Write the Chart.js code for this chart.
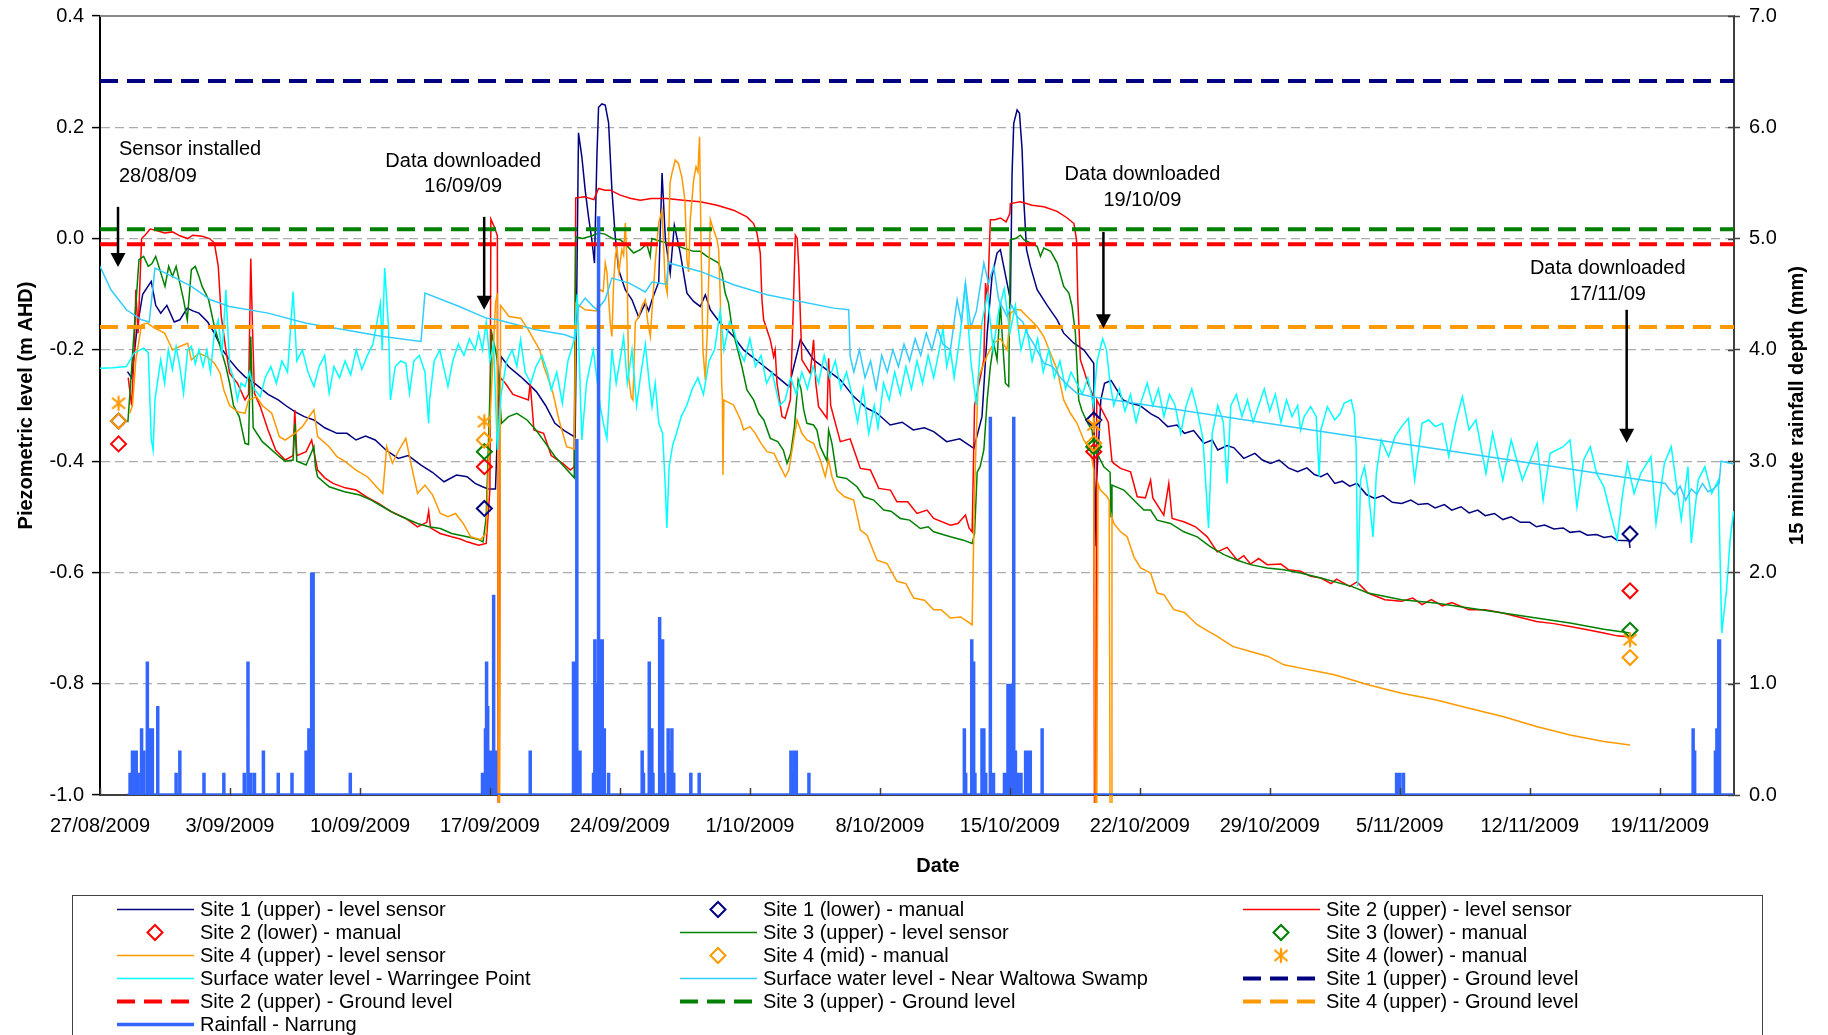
<!DOCTYPE html>
<html>
<head>
<meta charset="utf-8">
<script src="https://cdn.jsdelivr.net/npm/chart.js@4.4.1/dist/chart.umd.min.js"></script>
<style>
  html, body { margin: 0; padding: 0; background: #fff; }
  canvas { display: block; }
</style>
</head>
<body>
<canvas id="chart" width="1828" height="1035" style="width:1828px;height:1035px"></canvas>
<script>
// x values are days since 27/08/2009, left axis in m AHD, rainfall in mm
const tickLabels = ['27/08/2009', '3/09/2009', '10/09/2009', '17/09/2009', '24/09/2009', '1/10/2009',
  '8/10/2009', '15/10/2009', '22/10/2009', '29/10/2009', '5/11/2009', '12/11/2009', '19/11/2009'];
const tickDays = tickLabels.map((_, i) => i * 7);
const leftTicks = [-1.0, -0.8, -0.6, -0.4, -0.2, 0.0, 0.2, 0.4];
const rightTicks = [0, 1, 2, 3, 4, 5, 6, 7];

const seriesNames = [
  'Site 1 (upper) - level sensor', 'Site 1 (lower) - manual', 'Site 2 (upper) - level sensor',
  'Site 2 (lower) - manual', 'Site 3 (upper) - level sensor', 'Site 3 (lower) - manual',
  'Site 4 (upper) - level sensor', 'Site 4 (mid) - manual', 'Site 4 (lower) - manual',
  'Surface water level - Warringee Point', 'Surface water level - Near Waltowa Swamp', 'Site 1 (upper) - Ground level',
  'Site 2 (upper) - Ground level', 'Site 3 (upper) - Ground level', 'Site 4 (upper) - Ground level',
  'Rainfall - Narrung'
];

const site1Upper = [
  [1.48,-0.239],[1.7,-0.25],[2.0,-0.16],[2.3,-0.1],[2.76,-0.077],[3.0,-0.12],[3.27,-0.134],[3.6,-0.12],[4.0,-0.15],
  [4.3,-0.146],[4.7,-0.125],[5.0,-0.13],[5.33,-0.134],[5.8,-0.15],[6.16,-0.17],[6.6,-0.2],[6.98,-0.218],[7.4,-0.235],
  [7.8,-0.248],[8.4,-0.262],[9.05,-0.28],[9.6,-0.29],[10.0,-0.3],[10.49,-0.311],[11.0,-0.32],[11.52,-0.326],[12.1,-0.34],
  [12.76,-0.35],[13.3,-0.35],[13.79,-0.362],[14.3,-0.355],[14.82,-0.362],[15.4,-0.38],[16.06,-0.395],[16.6,-0.39],
  [17.29,-0.407],[17.9,-0.42],[18.53,-0.437],[19.2,-0.425],[19.77,-0.428],[20.2,-0.44],[20.6,-0.446],[20.9,-0.45],
  [21.3,-0.45],[21.45,-0.3],[21.6,-0.212],[22.0,-0.23],[22.65,-0.248],[23.1,-0.262],[23.5,-0.275],[24.0,-0.3],
  [24.5,-0.332],[25.0,-0.345],[25.59,-0.357],[25.77,0.19],[25.95,0.147],[26.13,0.087],[26.31,0.039],[26.49,-0.003],
  [26.63,-0.044],[26.76,0.147],[26.85,0.236],[27.03,0.242],[27.21,0.24],[27.39,0.208],[27.57,0.087],[27.75,0.003],
  [27.93,-0.056],[28.29,-0.092],[28.65,-0.11],[29.01,-0.141],[29.37,-0.116],[29.55,-0.13],[29.73,-0.11],[30.09,-0.078],
  [30.27,0.118],[30.45,-0.002],[30.71,-0.062],[30.93,0.024],[31.25,-0.026],[31.61,-0.098],[31.97,-0.113],[32.33,-0.122],
  [32.6,-0.101],[32.87,-0.128],[33.41,-0.152],[34.12,-0.176],[34.66,-0.2],[35.56,-0.224],[36.46,-0.248],[37.1,-0.266],
  [37.72,-0.182],[38.43,-0.218],[39.15,-0.236],[39.87,-0.254],[40.59,-0.284],[41.3,-0.305],[41.85,-0.314],[42.56,-0.335],
  [43.2,-0.33],[43.8,-0.344],[44.4,-0.34],[44.9,-0.347],[45.6,-0.365],[46.3,-0.36],[47.06,-0.377],[47.5,-0.32],
  [47.78,-0.17],[48.04,-0.068],[48.31,-0.026],[48.49,-0.02],[48.67,-0.05],[49.03,-0.11],[49.12,0.117],[49.21,0.207],
  [49.39,0.231],[49.52,0.225],[49.66,0.16],[49.75,0.07],[49.9,-0.02],[50.11,-0.05],[50.47,-0.092],[51.01,-0.12],
  [51.55,-0.146],[51.9,-0.17],[52.45,-0.188],[52.98,-0.2],[53.52,-0.224],[53.58,-0.553],[53.65,-0.45],[53.9,-0.29],
  [54.1,-0.26],[54.45,-0.255],[55.1,-0.29],[55.5,-0.296],[56.0,-0.3],[56.6,-0.315],[57.0,-0.322],[57.5,-0.338],
  [58.0,-0.335],[58.4,-0.35],[58.9,-0.345],[59.45,-0.368],[59.9,-0.362],[60.2,-0.38],[60.7,-0.372],[61.07,-0.376],
  [61.6,-0.395],[62.2,-0.386],[62.6,-0.398],[63.04,-0.404],[63.5,-0.398],[64.0,-0.412],[64.5,-0.419],[65.0,-0.412],
  [65.4,-0.424],[65.75,-0.428],[66.1,-0.422],[66.5,-0.44],[66.9,-0.436],[67.3,-0.445],[67.7,-0.44],[68.2,-0.46],
  [68.65,-0.467],[69.1,-0.462],[69.6,-0.474],[70.1,-0.476],[70.6,-0.47],[71.0,-0.478],[71.5,-0.476],[71.9,-0.484],
  [72.4,-0.478],[72.8,-0.488],[73.3,-0.482],[73.73,-0.493],[74.2,-0.488],[74.6,-0.498],[75.1,-0.494],[75.55,-0.505],
  [76.0,-0.5],[76.5,-0.51],[77.0,-0.51],[77.36,-0.518],[77.8,-0.515],[78.3,-0.522],[78.8,-0.52],[79.17,-0.528],
  [79.7,-0.526],[80.1,-0.533],[80.6,-0.532],[81.0,-0.537],[81.4,-0.535],[81.7,-0.542],[82.35,-0.543],[82.4,-0.556]
];

const site2Upper = [
  [1.52,-0.25],[1.7,-0.3],[1.85,-0.2],[1.93,-0.092],[2.05,-0.17],[2.24,0.0],[2.45,0.007],[2.7,0.017],[3.0,0.015],
  [3.48,0.01],[3.9,0.012],[4.3,0.005],[4.72,0.0],[5.0,0.006],[5.5,0.004],[5.9,0.0],[6.16,-0.008],[6.37,-0.05],
  [6.53,-0.14],[6.78,-0.2],[6.98,-0.242],[7.4,-0.26],[7.81,-0.29],[8.0,-0.28],[8.12,-0.036],[8.22,-0.17],[8.32,-0.278],
  [8.63,-0.302],[9.05,-0.344],[9.46,-0.38],[9.97,-0.398],[10.4,-0.39],[10.49,-0.308],[10.6,-0.39],[11.1,-0.383],
  [11.4,-0.362],[11.72,-0.416],[12.1,-0.43],[12.55,-0.44],[13.2,-0.448],[13.79,-0.452],[14.4,-0.465],[15.0,-0.476],
  [15.64,-0.49],[16.47,-0.503],[17.1,-0.518],[17.6,-0.51],[17.7,-0.49],[17.8,-0.52],[18.32,-0.53],[18.94,-0.536],
  [19.4,-0.54],[19.77,-0.545],[20.39,-0.551],[20.8,-0.548],[21.0,-0.45],[21.05,0.035],[21.25,0.02],[21.4,0.005],
  [21.45,-1.05],[21.5,-1.05],[21.56,-0.25],[21.83,-0.26],[22.24,-0.28],[23.07,-0.29],[23.17,-0.26],[23.37,-0.344],
  [23.89,-0.35],[24.3,-0.39],[24.92,-0.404],[25.33,-0.416],[25.54,-0.41],[25.62,0.073],[26.1,0.075],[26.6,0.07],
  [26.85,0.09],[27.2,0.087],[27.48,0.087],[28.02,0.078],[28.6,0.072],[29.1,0.069],[29.7,0.072],[30.53,0.072],
  [31.4,0.069],[32.33,0.066],[33.23,0.06],[34.12,0.051],[34.84,0.039],[35.2,0.027],[35.38,0.01],[35.56,-0.026],
  [35.65,-0.11],[35.74,-0.146],[36.1,-0.182],[36.28,-0.212],[36.36,-0.2],[36.46,-0.26],[36.73,-0.32],[36.9,-0.323],
  [37.18,-0.29],[37.36,-0.1],[37.45,0.006],[37.55,0.0],[37.63,-0.05],[37.72,-0.14],[37.8,-0.218],[38.25,-0.242],
  [38.43,-0.182],[38.55,-0.26],[38.7,-0.302],[39.15,-0.323],[39.24,-0.215],[39.35,-0.3],[39.51,-0.32],[39.87,-0.365],
  [40.4,-0.36],[40.95,-0.413],[41.49,-0.416],[41.94,-0.449],[42.57,-0.452],[42.92,-0.473],[43.5,-0.473],[44.0,-0.494],
  [44.54,-0.488],[44.9,-0.503],[45.8,-0.515],[46.2,-0.512],[46.61,-0.497],[46.8,-0.52],[46.97,-0.527],[47.1,-0.3],
  [47.6,-0.218],[47.69,-0.08],[47.8,-0.11],[47.95,0.034],[48.2,0.034],[48.49,0.037],[48.8,0.03],[49.0,0.045],
  [49.03,0.063],[49.57,0.066],[50.2,0.06],[50.83,0.057],[51.55,0.049],[52.09,0.037],[52.45,0.027],[52.59,-0.002],
  [52.66,-0.11],[52.8,-0.218],[52.98,-0.236],[53.2,-0.26],[53.43,-0.278],[53.52,-0.32],[53.56,-1.05],[53.62,-1.05],
  [53.68,-0.29],[54.3,-0.33],[54.5,-0.4],[54.6,-0.404],[54.96,-0.413],[55.5,-0.419],[55.86,-0.464],[56.3,-0.466],
  [56.58,-0.434],[56.7,-0.466],[57.29,-0.497],[57.56,-0.44],[57.74,-0.503],[58.37,-0.509],[59.0,-0.518],[59.63,-0.536],
  [60.17,-0.563],[60.7,-0.555],[61.25,-0.578],[61.6,-0.57],[61.96,-0.585],[62.4,-0.575],[62.86,-0.586],[63.6,-0.585],
  [64.0,-0.595],[64.66,-0.598],[65.2,-0.607],[65.75,-0.61],[66.3,-0.62],[66.6,-0.612],[67.3,-0.625],[67.7,-0.617],
  [68.29,-0.637],[69.2,-0.649],[70.1,-0.652],[70.7,-0.646],[71.2,-0.658],[71.7,-0.649],[72.3,-0.66],[72.8,-0.654],
  [73.73,-0.667],[74.6,-0.667],[75.55,-0.673],[76.4,-0.68],[77.36,-0.688],[78.3,-0.692],[79.17,-0.697],[80.1,-0.703],
  [80.99,-0.709],[81.7,-0.714],[82.4,-0.716]
];

const site3Upper = [
  [1.5,-0.33],[1.7,-0.236],[1.9,-0.134],[2.1,-0.038],[2.35,-0.032],[2.6,-0.05],[2.8,-0.045],[3.0,-0.032],[3.5,-0.086],
  [3.7,-0.05],[3.9,-0.068],[4.1,-0.05],[4.5,-0.11],[4.7,-0.146],[4.92,-0.056],[5.13,-0.05],[5.33,-0.068],[5.5,-0.086],
  [5.85,-0.11],[6.16,-0.158],[6.47,-0.194],[6.78,-0.23],[6.98,-0.26],[7.19,-0.3],[7.5,-0.32],[7.81,-0.368],[8.0,-0.37],
  [8.12,-0.176],[8.25,-0.34],[8.74,-0.365],[9.05,-0.374],[9.66,-0.392],[9.97,-0.4],[10.4,-0.398],[10.49,-0.332],
  [10.6,-0.4],[11.1,-0.407],[11.52,-0.374],[11.6,-0.41],[11.72,-0.428],[12.34,-0.446],[13.17,-0.455],[13.99,-0.461],
  [14.61,-0.47],[15.23,-0.482],[15.85,-0.494],[16.47,-0.503],[17.1,-0.512],[17.71,-0.518],[18.33,-0.521],[18.94,-0.53],
  [19.77,-0.536],[20.39,-0.541],[20.63,-0.545],[20.8,-0.5],[21.1,-0.17],[21.3,-0.2],[21.4,-0.22],[21.62,-0.332],
  [22.0,-0.32],[22.45,-0.314],[23.0,-0.326],[23.48,-0.344],[24.0,-0.368],[24.51,-0.392],[25.0,-0.41],[25.54,-0.43],
  [25.62,0.003],[26.0,0.0],[26.5,0.005],[26.85,0.01],[27.2,0.008],[27.6,0.0],[28.02,-0.002],[28.3,-0.01],[28.74,-0.026],
  [29.1,-0.02],[29.45,-0.01],[29.63,-0.032],[29.72,0.0],[30.0,-0.003],[30.53,-0.008],[31.0,-0.012],[31.5,-0.018],
  [31.97,-0.023],[32.33,-0.023],[32.69,-0.032],[33.0,-0.038],[33.32,-0.044],[33.5,-0.062],[33.67,-0.098],[33.85,-0.116],
  [34.03,-0.158],[34.3,-0.194],[34.57,-0.23],[34.84,-0.272],[35.2,-0.29],[35.47,-0.314],[35.75,-0.326],[36.1,-0.359],
  [36.5,-0.365],[36.8,-0.38],[37.0,-0.404],[37.2,-0.386],[37.4,-0.338],[37.6,-0.254],[37.75,-0.27],[37.9,-0.308],
  [38.07,-0.332],[38.43,-0.335],[38.61,-0.344],[38.79,-0.374],[39.15,-0.4],[39.24,-0.344],[39.42,-0.368],[39.69,-0.428],
  [40.2,-0.431],[40.77,-0.446],[41.13,-0.464],[41.67,-0.47],[42.21,-0.488],[42.6,-0.49],[43.1,-0.503],[43.6,-0.506],
  [44.18,-0.521],[44.6,-0.518],[44.9,-0.527],[45.8,-0.536],[46.5,-0.542],[46.97,-0.548],[47.1,-0.53],[47.24,-0.42],
  [47.4,-0.41],[47.6,-0.38],[47.78,-0.29],[47.95,-0.23],[48.13,-0.188],[48.31,-0.218],[48.49,-0.116],[48.58,-0.17],
  [48.76,-0.26],[48.94,-0.266],[49.03,-0.002],[49.3,0.0],[49.57,0.006],[49.75,-0.002],[50.11,-0.008],[50.47,-0.014],
  [50.65,-0.032],[50.83,-0.017],[51.2,-0.023],[51.55,-0.044],[51.9,-0.086],[52.18,-0.098],[52.35,-0.122],[52.53,-0.17],
  [52.62,-0.23],[52.71,-0.29],[52.89,-0.31],[53.2,-0.332],[53.43,-0.344],[53.52,-0.374],[53.7,-0.386],[53.88,-0.398],
  [54.06,-0.41],[54.4,-0.42],[54.45,-0.5],[54.5,-0.443],[55.14,-0.452],[55.86,-0.476],[56.22,-0.488],[56.58,-0.488],
  [56.93,-0.506],[57.65,-0.512],[58.37,-0.527],[59.09,-0.536],[59.81,-0.554],[60.53,-0.568],[61.25,-0.578],[61.96,-0.586],
  [62.86,-0.592],[63.76,-0.595],[64.66,-0.601],[65.75,-0.61],[67.4,-0.625],[68.29,-0.637],[70.1,-0.649],[71.92,-0.655],
  [73.73,-0.664],[75.55,-0.673],[77.36,-0.682],[79.17,-0.691],[80.99,-0.702],[82.4,-0.709]
];

const site4Upper = [
  [1.6,-0.314],[1.75,-0.3],[1.93,-0.218],[2.24,-0.155],[2.55,-0.152],[2.9,-0.16],[3.48,-0.17],[3.9,-0.2],[4.3,-0.194],
  [4.72,-0.188],[4.92,-0.218],[5.33,-0.206],[5.75,-0.212],[6.16,-0.224],[6.47,-0.242],[6.67,-0.272],[6.98,-0.3],
  [7.4,-0.311],[7.81,-0.314],[8.0,-0.29],[8.43,-0.284],[8.74,-0.3],[9.25,-0.314],[9.66,-0.356],[9.97,-0.362],
  [10.49,-0.35],[10.9,-0.338],[11.3,-0.318],[11.52,-0.308],[11.72,-0.356],[12.34,-0.374],[12.76,-0.392],[13.17,-0.4],
  [13.79,-0.416],[14.4,-0.428],[15.0,-0.45],[15.23,-0.458],[15.44,-0.374],[15.75,-0.404],[16.1,-0.38],[16.47,-0.359],
  [16.78,-0.41],[17.1,-0.458],[17.5,-0.443],[17.9,-0.46],[18.33,-0.494],[18.74,-0.5],[19.15,-0.494],[19.56,-0.512],
  [19.97,-0.536],[20.49,-0.541],[20.8,-0.53],[21.0,-0.33],[21.3,-0.116],[21.4,-0.098],[21.47,-1.05],[21.52,-1.05],
  [21.57,-0.12],[22.03,-0.14],[22.65,-0.143],[23.07,-0.164],[23.37,-0.182],[23.68,-0.2],[23.9,-0.23],[24.1,-0.248],
  [24.4,-0.278],[24.72,-0.326],[25.13,-0.374],[25.54,-0.378],[25.63,-0.116],[26.13,-0.128],[26.76,-0.13],[26.85,-0.1],
  [26.94,-0.092],[27.1,-0.095],[27.21,-0.044],[27.3,-0.06],[27.48,-0.152],[27.57,-0.176],[27.66,-0.08],[27.75,-0.033],
  [27.84,-0.015],[27.95,-0.06],[28.1,-0.02],[28.2,-0.03],[28.29,0.028],[28.38,-0.04],[28.47,-0.249],[28.61,-0.285],
  [28.7,-0.29],[28.83,-0.15],[29.01,-0.141],[29.2,-0.12],[29.37,-0.11],[29.5,-0.15],[29.64,-0.176],[29.75,-0.12],
  [29.91,-0.04],[30.09,0.028],[30.27,0.051],[30.44,-0.08],[30.55,-0.098],[30.7,0.1],[30.8,0.117],[30.98,0.141],
  [31.15,0.135],[31.34,0.11],[31.5,0.069],[31.61,-0.038],[31.7,-0.06],[31.79,0.034],[31.97,0.105],[32.1,0.129],
  [32.2,0.12],[32.29,0.183],[32.36,0.01],[32.47,-0.2],[32.6,-0.254],[32.7,-0.17],[32.87,0.034],[33.0,0.02],
  [33.23,-0.002],[33.32,-0.02],[33.41,-0.11],[33.48,-0.26],[33.52,-0.29],[33.55,-0.425],[33.6,-0.29],[33.76,-0.293],
  [34.12,-0.299],[34.5,-0.326],[34.66,-0.344],[35.0,-0.338],[35.29,-0.35],[35.6,-0.368],[35.92,-0.383],[36.3,-0.386],
  [36.64,-0.41],[36.91,-0.428],[37.1,-0.416],[37.36,-0.362],[37.54,-0.326],[37.8,-0.35],[38.07,-0.362],[38.43,-0.368],
  [38.79,-0.398],[39.06,-0.428],[39.24,-0.398],[39.42,-0.428],[39.69,-0.452],[40.1,-0.464],[40.59,-0.47],[40.95,-0.524],
  [41.31,-0.533],[41.85,-0.578],[42.39,-0.584],[42.92,-0.616],[43.4,-0.62],[43.82,-0.646],[44.4,-0.65],[44.9,-0.667],
  [45.3,-0.667],[45.8,-0.682],[46.35,-0.68],[46.97,-0.694],[47.1,-0.45],[47.3,-0.25],[47.78,-0.21],[48.13,-0.188],
  [48.49,-0.18],[48.85,-0.2],[49.03,-0.134],[49.3,-0.128],[49.57,-0.128],[49.93,-0.14],[50.47,-0.158],[50.83,-0.176],
  [51.19,-0.206],[51.55,-0.236],[51.9,-0.29],[52.26,-0.314],[52.62,-0.332],[52.98,-0.362],[53.34,-0.38],[53.52,-0.416],
  [53.6,-1.05],[53.68,-1.05],[53.75,-0.44],[53.88,-0.452],[54.24,-0.464],[54.35,-0.47],[54.4,-1.05],[54.46,-1.05],
  [54.5,-0.5],[54.6,-0.512],[54.96,-0.527],[55.32,-0.536],[55.68,-0.572],[56.04,-0.592],[56.58,-0.601],[56.93,-0.637],
  [57.3,-0.64],[57.83,-0.667],[58.4,-0.672],[59.09,-0.694],[59.7,-0.706],[60.17,-0.715],[61.0,-0.733],[61.96,-0.742],
  [62.9,-0.751],[63.76,-0.766],[64.66,-0.772],[65.6,-0.778],[66.47,-0.784],[67.4,-0.793],[68.29,-0.802],[70.1,-0.817],
  [71.92,-0.829],[73.73,-0.844],[75.55,-0.859],[77.36,-0.877],[79.17,-0.892],[80.99,-0.904],[82.4,-0.91]
];

const site1Lower = [[1.0,-0.328],[20.7,-0.485],[53.52,-0.326],[82.4,-0.531]];
const site2Lower = [[1.0,-0.369],[20.7,-0.41],[53.52,-0.383],[82.4,-0.633]];
const site3Lower = [[20.7,-0.383],[53.52,-0.374],[82.4,-0.704]];
const site4Mid = [[1.0,-0.328],[20.7,-0.362],[53.52,-0.368],[82.4,-0.753]];
const site4Lower = [[1.0,-0.296],[20.7,-0.329],[53.52,-0.335],[82.4,-0.721]];

const warringee = [
  [0,-0.233],[0.7,-0.232],[1.42,-0.23],[1.83,-0.206],[2.35,-0.197],[2.6,-0.205],[2.76,-0.36],[2.86,-0.38],[2.96,-0.29],
  [3.27,-0.218],[3.48,-0.26],[3.68,-0.2],[3.9,-0.235],[4.1,-0.194],[4.3,-0.23],[4.5,-0.278],[4.72,-0.2],[4.92,-0.194],
  [5.13,-0.225],[5.33,-0.2],[5.55,-0.23],[5.75,-0.2],[5.95,-0.24],[6.16,-0.17],[6.37,-0.146],[6.57,-0.21],[6.78,-0.092],
  [6.98,-0.23],[7.19,-0.25],[7.4,-0.29],[7.6,-0.26],[7.81,-0.266],[8.05,-0.24],[8.3,-0.27],[8.63,-0.284],[8.9,-0.25],
  [9.2,-0.23],[9.5,-0.26],[9.8,-0.22],[10.1,-0.24],[10.4,-0.095],[10.6,-0.22],[10.9,-0.2],[11.2,-0.24],[11.52,-0.266],
  [11.8,-0.23],[12.1,-0.21],[12.34,-0.278],[12.6,-0.23],[12.9,-0.25],[13.2,-0.22],[13.5,-0.245],[13.8,-0.2],[14.1,-0.235],
  [14.4,-0.21],[14.7,-0.19],[15.1,-0.116],[15.2,-0.2],[15.33,-0.053],[15.54,-0.16],[15.64,-0.29],[15.9,-0.23],
  [16.2,-0.22],[16.47,-0.224],[16.67,-0.278],[16.9,-0.22],[17.2,-0.21],[17.5,-0.24],[17.7,-0.332],[17.75,-0.29],
  [18.0,-0.22],[18.3,-0.2],[18.5,-0.23],[18.74,-0.266],[19.0,-0.22],[19.3,-0.19],[19.6,-0.21],[19.9,-0.18],[20.2,-0.2],
  [20.39,-0.17],[20.6,-0.2],[20.8,-0.15],[21.0,-0.22],[21.2,-0.19],[21.4,-0.38],[21.6,-0.28],[21.9,-0.22],[22.2,-0.2],
  [22.45,-0.23],[22.65,-0.182],[22.9,-0.24],[23.2,-0.26],[23.48,-0.23],[23.8,-0.21],[24.1,-0.24],[24.3,-0.272],
  [24.6,-0.24],[24.9,-0.296],[25.2,-0.22],[25.54,-0.182],[25.7,-0.1],[25.95,-0.362],[26.2,-0.26],[26.57,-0.2],
  [26.94,-0.302],[27.1,-0.33],[27.3,-0.36],[27.57,-0.2],[27.8,-0.26],[28.0,-0.22],[28.2,-0.177],[28.4,-0.26],
  [28.65,-0.2],[28.9,-0.3],[29.1,-0.25],[29.37,-0.19],[29.55,-0.25],[29.73,-0.302],[29.9,-0.26],[30.09,-0.331],
  [30.3,-0.35],[30.45,-0.45],[30.53,-0.52],[30.65,-0.41],[30.85,-0.37],[31.05,-0.35],[31.3,-0.32],[31.6,-0.3],
  [31.9,-0.27],[32.2,-0.25],[32.5,-0.28],[32.8,-0.22],[33.1,-0.2],[33.4,-0.13],[33.6,-0.2],[33.9,-0.15],[34.1,-0.16],
  [34.4,-0.2],[34.7,-0.22],[35.0,-0.18],[35.3,-0.23],[35.6,-0.21],[35.9,-0.26],[36.2,-0.24],[36.6,-0.3],[36.9,-0.29],
  [37.2,-0.25],[37.5,-0.28],[37.8,-0.24],[38.1,-0.27],[38.4,-0.23],[38.7,-0.26],[39.0,-0.21],[39.3,-0.25],[39.6,-0.22],
  [39.9,-0.27],[40.2,-0.24],[40.5,-0.28],[40.8,-0.33],[41.1,-0.27],[41.4,-0.35],[41.7,-0.3],[41.9,-0.34],[42.2,-0.26],
  [42.5,-0.29],[42.8,-0.24],[43.1,-0.28],[43.4,-0.23],[43.7,-0.27],[44.0,-0.22],[44.3,-0.26],[44.6,-0.21],[44.9,-0.25],
  [45.2,-0.2],[45.4,-0.161],[45.6,-0.23],[45.8,-0.2],[46.0,-0.25],[46.3,-0.18],[46.6,-0.08],[46.9,-0.22],[47.2,-0.3],
  [47.5,-0.15],[47.8,-0.1],[48.1,-0.2],[48.4,-0.13],[48.7,-0.09],[49.0,-0.17],[49.3,-0.12],[49.6,-0.2],[49.9,-0.16],
  [50.2,-0.22],[50.5,-0.18],[50.8,-0.24],[51.1,-0.2],[51.4,-0.25],[51.7,-0.22],[52.0,-0.27],[52.3,-0.24],[52.6,-0.26],
  [52.9,-0.28],[53.2,-0.25],[53.5,-0.3],[53.7,-0.22],[54.0,-0.18],[54.2,-0.2],[54.4,-0.26],[54.6,-0.3],[54.9,-0.27],
  [55.2,-0.31],[55.5,-0.28],[55.8,-0.33],[56.1,-0.29],[56.4,-0.26],[56.7,-0.3],[57.0,-0.27],[57.3,-0.32],[57.6,-0.28],
  [57.9,-0.3],[58.2,-0.35],[58.5,-0.3],[58.8,-0.27],[59.1,-0.31],[59.4,-0.36],[59.7,-0.52],[59.9,-0.35],[60.2,-0.3],
  [60.5,-0.33],[60.7,-0.44],[60.9,-0.3],[61.2,-0.28],[61.5,-0.32],[61.8,-0.29],[62.1,-0.33],[62.4,-0.3],[62.7,-0.27],
  [63.0,-0.31],[63.3,-0.28],[63.6,-0.33],[63.9,-0.29],[64.2,-0.32],[64.5,-0.3],[64.66,-0.344],[64.85,-0.32],
  [65.2,-0.302],[65.5,-0.32],[65.66,-0.428],[65.75,-0.344],[66.1,-0.302],[66.5,-0.326],[66.8,-0.314],[67.0,-0.296],
  [67.38,-0.29],[67.55,-0.314],[67.65,-0.374],[67.74,-0.625],[67.89,-0.434],[68.1,-0.41],[68.3,-0.452],[68.56,-0.536],
  [68.74,-0.422],[69.0,-0.362],[69.4,-0.392],[69.74,-0.356],[70.1,-0.338],[70.46,-0.323],[70.8,-0.434],[71.2,-0.332],
  [71.55,-0.326],[71.92,-0.338],[72.3,-0.332],[72.64,-0.392],[73.0,-0.332],[73.37,-0.284],[73.73,-0.344],[74.1,-0.326],
  [74.64,-0.422],[75.0,-0.35],[75.55,-0.434],[76.0,-0.362],[76.6,-0.434],[77.4,-0.368],[77.72,-0.47],[78.1,-0.386],
  [78.8,-0.374],[79.17,-0.362],[79.54,-0.482],[79.9,-0.398],[80.26,-0.374],[80.6,-0.422],[80.99,-0.446],[81.35,-0.494],
  [81.71,-0.541],[81.98,-0.464],[82.26,-0.404],[82.62,-0.458],[82.98,-0.422],[83.53,-0.392],[83.8,-0.512],[84.25,-0.404],
  [84.62,-0.374],[85.16,-0.505],[85.52,-0.41],[85.7,-0.547],[86.07,-0.434],[86.43,-0.41],[86.8,-0.458],[87.16,-0.434],
  [87.34,-0.709],[87.6,-0.631],[87.79,-0.541],[87.97,-0.494],[88.0,-0.49]
];

const waltowa = [
  [0,-0.05],[0.59,-0.092],[1.42,-0.128],[2.24,-0.146],[2.65,-0.15],[2.96,-0.053],[3.89,-0.068],[4.92,-0.086],
  [5.95,-0.11],[6.98,-0.122],[9.05,-0.134],[11.11,-0.152],[13.17,-0.164],[15.23,-0.176],[17.29,-0.185],[17.5,-0.098],
  [19.35,-0.122],[20.8,-0.143],[21.42,-0.146],[23.48,-0.164],[25.05,-0.173],[25.6,-0.18],[25.77,-0.123],[26.13,-0.107],
  [26.5,-0.12],[26.76,-0.128],[27.2,-0.11],[27.57,-0.071],[28.5,-0.08],[29.37,-0.096],[29.73,-0.078],[30.5,-0.082],
  [30.62,-0.044],[32.33,-0.059],[34.12,-0.083],[35.92,-0.101],[37.72,-0.113],[39.51,-0.125],[40.32,-0.128],[40.4,-0.212],
  [40.6,-0.24],[40.9,-0.2],[41.2,-0.25],[41.5,-0.22],[41.8,-0.27],[42.1,-0.21],[42.4,-0.24],[42.7,-0.2],[43.0,-0.23],
  [43.3,-0.19],[43.6,-0.22],[43.9,-0.18],[44.2,-0.21],[44.5,-0.17],[44.8,-0.2],[45.1,-0.16],[45.4,-0.19],[45.8,-0.2],
  [46.16,-0.11],[46.4,-0.15],[46.61,-0.08],[46.9,-0.16],[47.2,-0.13],[47.6,-0.044],[47.85,-0.08],[48.13,-0.05],
  [48.4,-0.11],[48.85,-0.14],[49.1,-0.12],[49.39,-0.14],[49.7,-0.15],[49.93,-0.17],[50.3,-0.19],[50.83,-0.224],
  [51.3,-0.23],[51.73,-0.25],[52.2,-0.266],[52.62,-0.278],[53.34,-0.284],[53.6,-0.285],[84.3,-0.44],[84.5,-0.45],
  [84.8,-0.46],[85.1,-0.445],[85.4,-0.47],[85.7,-0.45],[86.0,-0.46],[86.3,-0.44],[86.6,-0.455],[86.9,-0.45],
  [87.2,-0.44],[87.3,-0.4],[88.0,-0.405]
];

const groundDays = [0, 88];
const groundLevels = [0.283, -0.0103, 0.0167, -0.159];

const rainStart = 1.48;
const rainEvents = [
  [1.62,0.2],[1.75,0.4],[1.85,0.4],[1.95,0.4],[2.05,0.2],[2.24,0.6],[2.35,0.4],[2.55,1.2],[2.62,0.2],[2.7,0.6],
  [2.82,0.6],[3.11,0.8],[4.1,0.2],[4.3,0.4],[5.6,0.2],[6.67,0.2],[7.77,0.2],[7.97,1.2],[8.12,0.2],[8.32,0.2],
  [8.8,0.4],[9.6,0.2],[10.34,0.2],[11.1,0.4],[11.25,0.6],[11.4,2.0],[11.48,2.0],[13.48,0.2],[20.6,0.2],[20.76,0.6],
  [20.82,1.2],[20.88,0.8],[20.95,0.4],[21.05,0.4],[21.12,0.2],[21.2,1.8],[21.3,0.4],[23.17,0.4],[25.5,1.2],[25.58,1.2],
  [25.68,3.2],[25.75,0.4],[25.85,0.4],[26.58,0.2],[26.65,1.4],[26.72,1.0],[26.85,5.2],[26.92,1.4],[27.05,1.4],
  [27.16,0.6],[27.39,0.2],[29.2,0.4],[29.27,0.2],[29.58,1.2],[29.72,0.6],[29.78,0.2],[30.14,1.6],[30.22,0.6],
  [30.3,1.4],[30.35,0.2],[30.6,0.6],[30.68,0.4],[30.8,0.6],[30.9,0.2],[31.82,0.2],[32.27,0.2],[37.21,0.4],[37.3,0.2],
  [37.4,0.4],[37.5,0.4],[38.18,0.2],[46.55,0.6],[46.62,0.2],[46.95,1.4],[47.05,1.2],[47.12,0.2],[47.5,0.6],[47.6,0.6],
  [47.7,0.2],[47.95,3.4],[48.05,0.2],[48.12,0.2],[48.71,0.2],[48.9,1.0],[48.98,1.0],[49.06,1.0],[49.21,3.4],[49.3,0.4],
  [49.42,0.2],[49.6,0.2],[49.85,0.4],[49.95,0.4],[50.02,0.2],[50.1,0.4],[50.74,0.6],[69.83,0.2],[70.0,0.2],[70.2,0.2],
  [85.8,0.6],[85.88,0.4],[87.0,0.4],[87.08,0.6],[87.18,1.4],[87.22,1.4]
];
const rainEnd = 88;

// annotation texts anchored on days and left-axis values
const notes = [
  { lines: ['Sensor installed', '28/08/09'], day: 1.02, align: 'left', at: [0.161, 0.112], arrowDay: 0.97, arrow: [0.057, -0.051] },
  { lines: ['Data downloaded', '16/09/09'], day: 19.56, align: 'center', at: [0.138, 0.093], arrowDay: 20.69, arrow: [0.039, -0.128] },
  { lines: ['Data downloaded', '19/10/09'], day: 56.14, align: 'center', at: [0.116, 0.069], arrowDay: 54.04, arrow: [0.012, -0.161] },
  { lines: ['Data downloaded', '17/11/09'], day: 81.2, align: 'center', at: [-0.053, -0.1], arrowDay: 82.22, arrow: [-0.128, -0.367] }
];

const FONT = '"Liberation Sans", Arial, sans-serif';
Chart.defaults.font.family = FONT;
Chart.defaults.font.size = 20;
Chart.defaults.color = '#000';

const pts = arr => arr.map(([x, y]) => ({ x, y }));

const rainPts = [{ x: rainStart, y: 0 }];
rainEvents.forEach(([d, v]) => { rainPts.push({ x: d, y: 0 }, { x: d, y: v }, { x: d, y: 0 }); });
rainPts.push({ x: rainEnd, y: 0 });

// asterisk marker (x plus vertical stroke)
const star = document.createElement('canvas');
star.width = 18; star.height = 18;
(() => {
  const s = star.getContext('2d');
  s.strokeStyle = '#FF9900'; s.lineWidth = 2.2;
  s.beginPath();
  s.moveTo(9, 1.5); s.lineTo(9, 16.5);
  s.moveTo(2.5, 3.5); s.lineTo(15.5, 14.5);
  s.moveTo(15.5, 3.5); s.lineTo(2.5, 14.5);
  s.stroke();
})();

const dropClip = { left: 2, top: 2, right: 2, bottom: 8 };
const lineSet = (i, data, color, order, extra) => Object.assign({
  label: seriesNames[i], data: pts(data), borderColor: color, backgroundColor: color,
  borderWidth: 1.5, pointRadius: 0, tension: 0, fill: false, yAxisID: 'y', order
}, extra || {});
const markSet = (i, data, color, order, style) => ({
  label: seriesNames[i], data: pts(data), showLine: false, borderColor: color,
  backgroundColor: 'rgba(0,0,0,0)', pointStyle: style || 'rectRot', pointRadius: 7.5,
  pointBorderWidth: 2, pointHoverRadius: 7.5, yAxisID: 'y', order
});
const groundSet = (i, k, color, order) => lineSet(i, groundDays.map(d => [d, groundLevels[k]]), color, order,
  { borderWidth: 4, borderDash: [18, 9] });

const datasets = [
  lineSet(0, site1Upper, '#000080', 16, { clip: dropClip }),
  markSet(1, site1Lower, '#000080', 6),
  lineSet(2, site2Upper, '#FF0000', 15, { clip: dropClip }),
  markSet(3, site2Lower, '#FF0000', 5),
  lineSet(4, site3Upper, '#008000', 14),
  markSet(5, site3Lower, '#008000', 4),
  lineSet(6, site4Upper, '#FF9900', 13, { clip: dropClip }),
  markSet(7, site4Mid, '#FF9900', 3),
  markSet(8, site4Lower, '#FF9900', 2, star),
  lineSet(9, warringee, '#00FFFF', 12),
  lineSet(10, waltowa, '#33CCFF', 11),
  groundSet(11, 0, '#000080', 10),
  groundSet(12, 1, '#FF0000', 9),
  groundSet(13, 2, '#008000', 8),
  groundSet(14, 3, '#FF9900', 7),
  Object.assign(lineSet(15, [], '#3366FF', 1), { data: rainPts, borderWidth: 3.5, yAxisID: 'y2' })
];

const extras = {
  id: 'extras',
  afterDraw(chart) {
    const c = chart.ctx;
    const { x, y, y2 } = chart.scales;
    const area = chart.chartArea;
    c.save();
    // plot area top border
    c.strokeStyle = '#888888'; c.lineWidth = 2;
    c.beginPath(); c.moveTo(area.left, area.top); c.lineTo(area.right, area.top); c.stroke();
    // inside tick marks on the date axis and the right axis
    c.strokeStyle = '#404040'; c.lineWidth = 1.5;
    c.beginPath();
    tickDays.forEach(d => { const px = Math.round(x.getPixelForValue(d)) + 0.5; c.moveTo(px, area.bottom); c.lineTo(px, area.bottom - 7); });
    rightTicks.forEach(v => { const py = Math.round(y2.getPixelForValue(v)) + 0.5; c.moveTo(area.right, py); c.lineTo(area.right - 6, py); });
    c.stroke();

    // annotations
    c.fillStyle = '#000'; c.strokeStyle = '#000';
    c.font = '20px ' + FONT; c.textBaseline = 'middle';
    notes.forEach(n => {
      c.textAlign = n.align;
      n.lines.forEach((t, k) => c.fillText(t, x.getPixelForValue(n.day), y.getPixelForValue(n.at[k])));
      const ax = x.getPixelForValue(n.arrowDay);
      const a0 = y.getPixelForValue(n.arrow[0]);
      const a1 = y.getPixelForValue(n.arrow[1]);
      c.lineWidth = 2.5;
      c.beginPath(); c.moveTo(ax, a0); c.lineTo(ax, a1 - 12); c.stroke();
      c.beginPath(); c.moveTo(ax - 7.5, a1 - 14); c.lineTo(ax + 7.5, a1 - 14); c.lineTo(ax, a1); c.closePath(); c.fill();
    });

    // axis titles (x title offset as in the original, right title reads upward)
    c.font = 'bold 20px ' + FONT; c.textAlign = 'center';
    c.fillText('Date', 938, 866);
    c.save();
    c.translate(1797, (area.top + area.bottom) / 2);
    c.rotate(-Math.PI / 2);
    c.fillText('15 minute rainfall depth (mm)', 0, 0);
    c.restore();

    // legend box
    c.strokeStyle = '#404040'; c.lineWidth = 1;
    c.strokeRect(72.5, 895.5, 1690, 160);
    c.font = '20px ' + FONT; c.textAlign = 'left';
    const cols = [200, 763, 1326];
    chart.data.datasets.forEach((ds, i) => {
      const tx = cols[i % 3];
      const ty = 909.5 + Math.floor(i / 3) * 23;
      c.save();
      if (ds.showLine === false) {
        const mx = tx - 45;
        if (ds.pointStyle === star) {
          c.drawImage(star, mx - 9, ty - 9);
        } else {
          const r = 7.5;
          c.strokeStyle = ds.borderColor; c.lineWidth = 2;
          c.beginPath(); c.moveTo(mx - r, ty); c.lineTo(mx, ty - r); c.lineTo(mx + r, ty); c.lineTo(mx, ty + r); c.closePath(); c.stroke();
        }
      } else {
        c.strokeStyle = ds.borderColor; c.lineWidth = ds.borderWidth;
        c.setLineDash(ds.borderDash || []);
        c.beginPath(); c.moveTo(tx - 83, ty); c.lineTo(tx - 6, ty); c.stroke();
      }
      c.restore();
      c.fillText(ds.label, tx, ty + 1);
    });
    c.restore();
  }
};

const noGrid = v => Math.abs(v - 0.4) < 1e-6 || Math.abs(v + 1) < 1e-6;
const trimPad = s => { s.paddingTop = 8; s.paddingBottom = 8; };

new Chart(document.getElementById('chart').getContext('2d'), {
  type: 'line',
  data: { datasets },
  options: {
    responsive: false,
    animation: false,
    devicePixelRatio: 1,
    events: [],
    layout: { padding: { top: 16, bottom: 140, left: 0, right: 0 } },
    plugins: { legend: { display: false }, tooltip: { enabled: false } },
    scales: {
      x: {
        type: 'linear', min: 0, max: 88,
        afterBuildTicks: s => { s.ticks = tickDays.map(v => ({ value: v })); },
        afterFit: s => { s.height = 100; },
        ticks: { callback: v => tickLabels[tickDays.indexOf(v)], padding: 11, maxRotation: 0, autoSkip: false, color: '#000' },
        grid: { display: false },
        border: { color: '#404040', width: 2 }
      },
      y: {
        position: 'left', min: -1, max: 0.4,
        afterBuildTicks: s => { s.ticks = leftTicks.map(v => ({ value: v })); },
        afterFit: s => { s.width = 100; trimPad(s); },
        ticks: { callback: v => v.toFixed(1), padding: 8, color: '#000' },
        grid: {
          color: c => (c.tick && noGrid(c.tick.value)) ? 'rgba(0,0,0,0)' : '#ababab',
          lineWidth: 1.2, tickColor: '#000', tickLength: 8, tickWidth: 1.5
        },
        border: { color: '#000', width: 2, dash: [9, 5] },
        title: { display: true, text: 'Piezometric level (m AHD)', font: { weight: 'bold', size: 20 }, padding: { top: 14, bottom: 0 } }
      },
      y2: {
        position: 'right', min: 0, max: 7,
        afterBuildTicks: s => { s.ticks = rightTicks.map(v => ({ value: v })); },
        afterFit: s => { s.width = 94; trimPad(s); },
        ticks: { callback: v => v.toFixed(1), padding: 9, color: '#000' },
        grid: { drawOnChartArea: false, tickColor: '#404040', tickLength: 6, tickWidth: 1.5 },
        border: { color: '#404040', width: 2 }
      }
    }
  },
  plugins: [extras]
});
</script>
</body>
</html>
